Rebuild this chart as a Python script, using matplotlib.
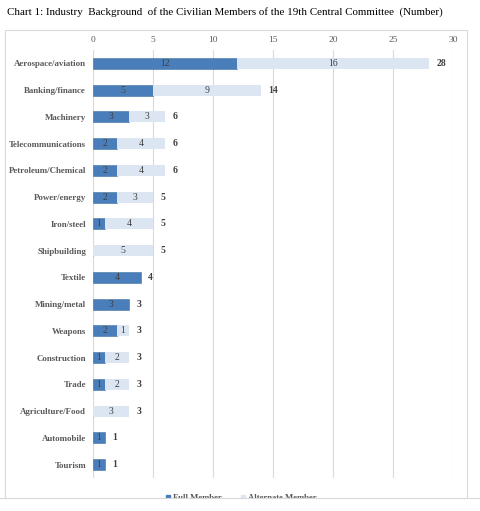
import matplotlib.pyplot as plt
from matplotlib.patches import Rectangle
from matplotlib.lines import Line2D
import numpy as np

plt.rcParams['font.family'] = ['Liberation Serif', 'DejaVu Serif']

industries = ['Aerospace/aviation', 'Banking/finance', 'Machinery', 'Telecommunications',
              'Petroleum/Chemical', 'Power/energy', 'Iron/steel', 'Shipbuilding', 'Textile',
              'Mining/metal', 'Weapons', 'Construction', 'Trade', 'Agriculture/Food',
              'Automobile', 'Tourism']
full_member = [12, 5, 3, 2, 2, 2, 1, 0, 4, 3, 2, 1, 1, 0, 1, 1]
alternate_member = [16, 9, 3, 4, 4, 3, 4, 5, 0, 0, 1, 2, 2, 3, 0, 0]
xticks = [0, 5, 10, 15, 20, 25, 30]

c_full = '#4a7ebb'
c_alt = '#dce6f2'
txt = '#404040'

W, H = 480, 511
fig = plt.figure(figsize=(W / 100, H / 100), dpi=100)

# chart frame
fig.patches.append(Rectangle((5 / W, 0), 462 / W, 1 - 30 / H, transform=fig.transFigure,
                             fill=False, edgecolor='#d9d9d9', lw=0.8))

fig.text(7 / W, 1 - 12 / H, 'Chart 1: Industry  Background  of the Civilian Members of the 19th Central Committee  (Number)',
         fontsize=7.9, va='center', ha='left', color='black')

ax = fig.add_axes([93 / W, 1 - 478 / H, 360 / W, 428 / H])
y = np.arange(len(industries))
full = np.array(full_member)
alt = np.array(alternate_member)
total = full + alt

ax.barh(y, full, height=0.42, color=c_full, edgecolor='#41719c', lw=0.4, zorder=3)
ax.barh(y, alt, left=full, height=0.42, color=c_alt, zorder=3)

for i in range(len(industries)):
    if full[i] > 0:
        ax.text(full[i] / 2, y[i], str(full[i]), ha='center', va='center',
                fontsize=7, color=txt, zorder=4)
    if alt[i] > 0:
        ax.text(full[i] + alt[i] / 2, y[i], str(alt[i]), ha='center', va='center',
                fontsize=7, color=txt, zorder=4)
    ax.text(total[i] + 0.6, y[i], str(total[i]), ha='left', va='center',
            fontsize=7, color=txt, fontweight='bold', zorder=4)

ax.set_xlim(0, 30)
ax.set_ylim(len(industries) - 0.5, -0.5)
ax.set_xticks(xticks)
ax.set_yticks(y)
ax.set_yticklabels(industries, fontsize=6.4, fontweight='bold', color='#595959')
ax.xaxis.tick_top()
ax.tick_params(axis='x', length=0, labelsize=6.8, labelcolor='#595959', pad=4)
ax.tick_params(axis='y', length=0, pad=5)
ax.grid(axis='x', color='#d9d9d9', lw=0.8, zorder=0)
for s in ax.spines.values():
    s.set_visible(False)

handles = [Line2D([], [], marker='s', ls='', color=c_full, markersize=3.2),
           Line2D([], [], marker='s', ls='', color=c_alt, markersize=3.2)]
leg = fig.legend(handles, ['Full Member', 'Alternate Member'], loc='center',
                 bbox_to_anchor=(240 / W, 1 - 498 / H), ncol=2, frameon=False,
                 fontsize=6.2, handletextpad=0.1, handlelength=1.0, columnspacing=2.0)
for t in leg.get_texts():
    t.set_fontweight('bold')
    t.set_color('#595959')

# image cut off at bottom
fig.patches.append(Rectangle((0, 0), 1, 1 - 498 / H, transform=fig.transFigure,
                             facecolor='white', edgecolor='none', zorder=10))
fig.lines.append(Line2D([0, 1], [1 - 498 / H] * 2, transform=fig.transFigure,
                        color='#d9d9d9', lw=0.8, zorder=11))

fig.savefig('out.png', dpi=100)
